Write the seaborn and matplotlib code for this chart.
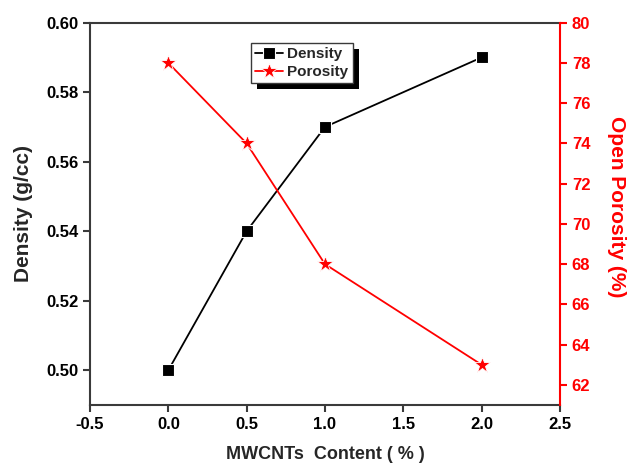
import numpy as np
import pandas as pd
import seaborn as sns
import matplotlib.pyplot as plt
from matplotlib.patches import Rectangle

# data
content = [0.0, 0.5, 1.0, 2.0]
density = [0.50, 0.54, 0.57, 0.59]
porosity = [78, 74, 68, 63]

df = pd.DataFrame({"content": content, "density": density, "porosity": porosity})

sns.set_theme(style="ticks")
plt.rcParams['font.family'] = ['Liberation Sans', 'DejaVu Sans']
plt.rcParams['font.weight'] = 'bold'

fig = plt.figure(figsize=(6.32, 4.63), dpi=100)
ax = fig.add_axes([0.1424, 0.1253, 0.886 - 0.1424, 0.951 - 0.1253])
ax2 = ax.twinx()

sns.lineplot(data=df, x="content", y="density", ax=ax, color="black", marker="s",
             markersize=8, markeredgecolor="white", markeredgewidth=0.8, linewidth=1.3,
             label="Density", legend=False)
sns.lineplot(data=df, x="content", y="porosity", ax=ax2, color="red", marker="*",
             markersize=12, markeredgecolor="white", markeredgewidth=0.6, linewidth=1.3,
             label="Porosity", legend=False)

ax.set_xlim(-0.5, 2.5)
ax.set_ylim(0.49, 0.60)
ax2.set_ylim(61, 80)
ax.set_xticks(np.arange(-0.5, 2.51, 0.5))
ax.set_yticks(np.arange(0.50, 0.601, 0.02))
ax2.set_yticks(np.arange(62, 80.1, 2))
ax.xaxis.set_major_formatter(plt.FormatStrFormatter('%.1f'))
ax.yaxis.set_major_formatter(plt.FormatStrFormatter('%.2f'))

gray = "#3a3a3a"
for s in ["left", "bottom", "top"]:
    ax.spines[s].set_visible(True)
    ax.spines[s].set_color(gray)
    ax.spines[s].set_linewidth(1.5)
ax.spines["right"].set_visible(False)
for s in ["left", "bottom", "top"]:
    ax2.spines[s].set_visible(False)
ax2.spines["right"].set_visible(True)
ax2.spines["right"].set_color("red")
ax2.spines["right"].set_linewidth(1.5)

ax.tick_params(axis="both", direction="out", length=5, width=1.5, color=gray,
               labelsize=12, labelcolor="black")
ax.tick_params(axis="x", top=False)
ax2.tick_params(axis="y", direction="out", length=5, width=1.5, color="red",
                labelsize=12, labelcolor="red")
for lab in ax.get_xticklabels() + ax.get_yticklabels() + ax2.get_yticklabels():
    lab.set_fontweight("bold")

ax.set_xlabel("MWCNTs  Content ( % )", fontsize=13, fontweight="bold", labelpad=10)
ax.set_ylabel("Density (g/cc)", fontsize=15, fontweight="bold", labelpad=9)
ax2.set_ylabel("Open Porosity (%)", fontsize=15, fontweight="bold", color="red",
               rotation=270, labelpad=26)
ax2.yaxis.label.set_y(0.52)

h1, l1 = ax.get_legend_handles_labels()
h2, l2 = ax2.get_legend_handles_labels()
leg = ax2.legend(h1 + h2, l1 + l2, loc="upper left",
                 bbox_to_anchor=(250.5 / 632, 1 - 42.5 / 463), bbox_transform=fig.transFigure,
                 borderaxespad=0, fancybox=False, edgecolor=gray, framealpha=1,
                 borderpad=0.3, handlelength=1.8, handletextpad=0.3, labelspacing=0.25,
                 prop={"size": 11, "weight": "bold"})
leg.get_frame().set_linewidth(1.0)
leg.set_zorder(10)

# drop shadow behind legend box
fig.canvas.draw()
bb = leg.get_window_extent()
shadow = Rectangle((bb.x0 + 6, bb.y0 - 6), bb.width, bb.height, transform=None,
                   facecolor="black", edgecolor="none", zorder=9)
ax2.add_artist(shadow)

fig.savefig("out.png", dpi=100)
